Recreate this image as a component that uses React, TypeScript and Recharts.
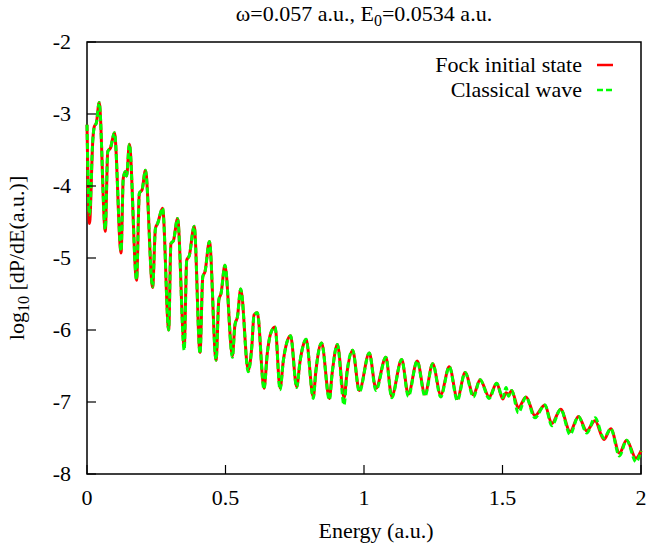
import React from "react";
import { LineChart, Line, XAxis, YAxis, ReferenceArea } from "recharts";

// energy grid (a.u.) at the peaks, dips and shoulders
const energy = [
  0, 0.009, 0.021, 0.026, 0.034, 0.044, 0.066, 0.075, 0.085, 0.099,
  0.123, 0.131, 0.139, 0.143, 0.153, 0.179, 0.189, 0.199, 0.211, 0.237,
  0.247, 0.255, 0.273, 0.295, 0.303, 0.312, 0.327, 0.351, 0.36, 0.369,
  0.387, 0.408, 0.418, 0.426, 0.442, 0.466, 0.476, 0.484, 0.498, 0.525,
  0.534, 0.543, 0.555, 0.582, 0.595, 0.603, 0.615, 0.639, 0.651, 0.663,
  0.679, 0.697, 0.709, 0.721, 0.735, 0.757, 0.769, 0.78, 0.791, 0.817,
  0.826, 0.847, 0.875, 0.885, 0.904, 0.928, 0.939, 0.959, 0.983, 1.019,
  1.043, 1.079, 1.1, 1.136, 1.16, 1.192, 1.22, 1.248, 1.277, 1.308,
  1.337, 1.365, 1.395, 1.419, 1.452, 1.479, 1.501, 1.513, 1.522, 1.533,
  1.557, 1.585, 1.617, 1.653, 1.678, 1.71, 1.744, 1.774, 1.804, 1.834,
  1.866, 1.891, 1.922, 1.948, 1.982, 2.0,
];

// log10 dP/dE, Fock initial state
const fock = [
  -3.15, -4.52, -3.36, -3.18, -3.12, -2.84, -4.63, -3.52, -3.47, -3.26,
  -4.93, -3.89, -3.8, -3.86, -3.42, -5.31, -4.1, -4.05, -3.78, -5.41,
  -4.59, -4.52, -4.31, -6.0, -4.8, -4.76, -4.45, -6.23, -5.03, -4.97,
  -4.56, -6.31, -5.26, -5.19, -4.77, -6.42, -5.58, -5.49, -5.1, -6.36,
  -5.93, -5.82, -5.43, -6.56, -6.23, -5.79, -5.76, -6.81, -6.32, -6.05,
  -5.96, -6.81, -6.42, -6.18, -6.08, -6.79, -6.44, -6.22, -6.13, -6.93,
  -6.58, -6.18, -6.95, -6.6, -6.2, -6.94, -6.58, -6.28, -6.84, -6.32,
  -6.81, -6.38, -6.92, -6.41, -6.89, -6.43, -6.89, -6.47, -6.9, -6.51,
  -6.95, -6.59, -6.9, -6.69, -6.93, -6.74, -6.96, -6.87, -6.9, -6.84,
  -7.08, -6.93, -7.19, -7.04, -7.3, -7.1, -7.41, -7.2, -7.4, -7.26,
  -7.52, -7.37, -7.71, -7.53, -7.78, -7.68,
];

// log10 dP/dE, classical wave
const classical = [
  -3.15, -4.4, -3.36, -3.18, -3.12, -2.84, -4.6, -3.52, -3.47, -3.26,
  -4.9, -3.89, -3.8, -3.86, -3.42, -5.3, -4.1, -4.05, -3.78, -5.4,
  -4.59, -4.52, -4.31, -6.0, -4.8, -4.76, -4.45, -6.28, -5.03, -4.97,
  -4.56, -6.33, -5.26, -5.19, -4.77, -6.42, -5.58, -5.49, -5.1, -6.38,
  -5.93, -5.82, -5.43, -6.58, -6.23, -5.79, -5.76, -6.82, -6.32, -6.05,
  -5.96, -6.83, -6.42, -6.18, -6.08, -6.8, -6.44, -6.22, -6.13, -6.95,
  -6.58, -6.18, -6.97, -6.6, -6.2, -7.04, -6.58, -6.28, -6.86, -6.32,
  -6.84, -6.38, -6.94, -6.41, -6.92, -6.43, -6.92, -6.47, -6.93, -6.51,
  -6.98, -6.59, -6.93, -6.69, -6.95, -6.74, -6.94, -6.8, -6.92, -6.84,
  -7.15, -6.93, -7.22, -7.04, -7.33, -7.1, -7.45, -7.2, -7.43, -7.22,
  -7.5, -7.37, -7.75, -7.53, -7.83, -7.68,
];

const xTicks = [0, 0.5, 1, 1.5, 2];
const yTicks = [-8, -7, -6, -5, -4, -3, -2];

const series = [
  { key: "fock", name: "Fock initial state", color: "#ff0000", dash: undefined as string | undefined },
  { key: "classical", name: "Classical wave", color: "#00ff00", dash: "6 3" },
];

const data = energy.map((e, i) => ({ energy: e, fock: fock[i], classical: classical[i] }));

const FONT = "'Liberation Serif', 'DejaVu Serif', serif";
const FS = 22;

function YTick(props: any) {
  const { x, y, payload } = props;
  return (
    <g>
      <line x1={x + 16} y1={y} x2={x + 25} y2={y} stroke="#000" strokeWidth={1.2} />
      <text x={x} y={y} dy={7} textAnchor="end" fontFamily={FONT} fontSize={FS} fill="#000">
        {payload.value}
      </text>
    </g>
  );
}

function XTick(props: any) {
  const { x, y, payload } = props;
  return (
    <g>
      <line x1={x} y1={y - 14} x2={x} y2={y - 23} stroke="#000" strokeWidth={1.2} />
      <text x={x} y={y} dy={17} textAnchor="middle" fontFamily={FONT} fontSize={FS} fill="#000">
        {payload.value}
      </text>
    </g>
  );
}

function YLabel(props: any) {
  const { viewBox } = props;
  const cx = 24;
  const cy = viewBox.y + viewBox.height / 2;
  return (
    <text
      x={cx}
      y={cy}
      transform={`rotate(-90, ${cx}, ${cy})`}
      textAnchor="middle"
      fontFamily={FONT}
      fontSize={FS}
      fill="#000"
    >
      log<tspan dy={5} fontSize={16}>10</tspan>
      <tspan dy={-5}> [dP/dE(a.u.)]</tspan>
    </text>
  );
}

function XLabel(props: any) {
  const { viewBox } = props;
  const cx = viewBox.x + viewBox.width / 2 + 12;
  return (
    <text x={cx} y={538} textAnchor="middle" fontFamily={FONT} fontSize={FS} fill="#000">
      Energy (a.u.)
    </text>
  );
}

function LegendBox() {
  return (
    <div
      style={{
        position: "absolute",
        top: 52,
        left: 360,
        width: 253,
        fontFamily: FONT,
        fontSize: FS,
        lineHeight: "25px",
        zIndex: 2,
      }}
    >
      {series.map((s) => (
        <div key={s.key} style={{ display: "flex", justifyContent: "flex-end", alignItems: "center" }}>
          <span>{s.name}</span>
          <svg width={16} height={10} style={{ marginLeft: 15 }}>
            <line x1={0} y1={5} x2={16} y2={5} stroke={s.color} strokeWidth={2.5} strokeDasharray={s.dash} />
          </svg>
        </div>
      ))}
    </div>
  );
}

export default function App() {
  return (
    <div style={{ position: "absolute", left: 0, top: 0, width: 647, height: 548, background: "#fff" }}>
      <div
        style={{
          position: "absolute",
          left: 87,
          width: 554,
          top: 1,
          textAlign: "center",
          fontFamily: FONT,
          fontSize: FS,
          zIndex: 2,
        }}
      >
        ω=0.057 a.u., E<sub style={{ fontSize: 16 }}>0</sub>=0.0534 a.u.
      </div>
      <LegendBox />
      <LineChart width={647} height={548} data={data} margin={{ top: 42, right: 6, bottom: 44, left: 27 }}>
        <XAxis
          dataKey="energy"
          type="number"
          domain={[0, 2]}
          ticks={xTicks}
          height={30}
          tickSize={0}
          tickMargin={14}
          tickLine={false}
          axisLine={false}
          tick={<XTick />}
          interval={0}
          label={<XLabel />}
        />
        <YAxis
          type="number"
          domain={[-8, -2]}
          ticks={yTicks}
          width={60}
          tickSize={0}
          tickMargin={16}
          tickLine={false}
          axisLine={false}
          tick={<YTick />}
          interval={0}
          allowDataOverflow
          label={<YLabel />}
        />
        {series.map((s) => (
          <Line
            key={s.key}
            name={s.name}
            dataKey={s.key}
            type="monotone"
            stroke={s.color}
            strokeWidth={3}
            strokeDasharray={s.dash}
            dot={false}
            isAnimationActive={false}
          />
        ))}
        <ReferenceArea x1={0} x2={2} y1={-8} y2={-2} fill="none" stroke="#000" strokeWidth={1.5} ifOverflow="visible" />
      </LineChart>
    </div>
  );
}
